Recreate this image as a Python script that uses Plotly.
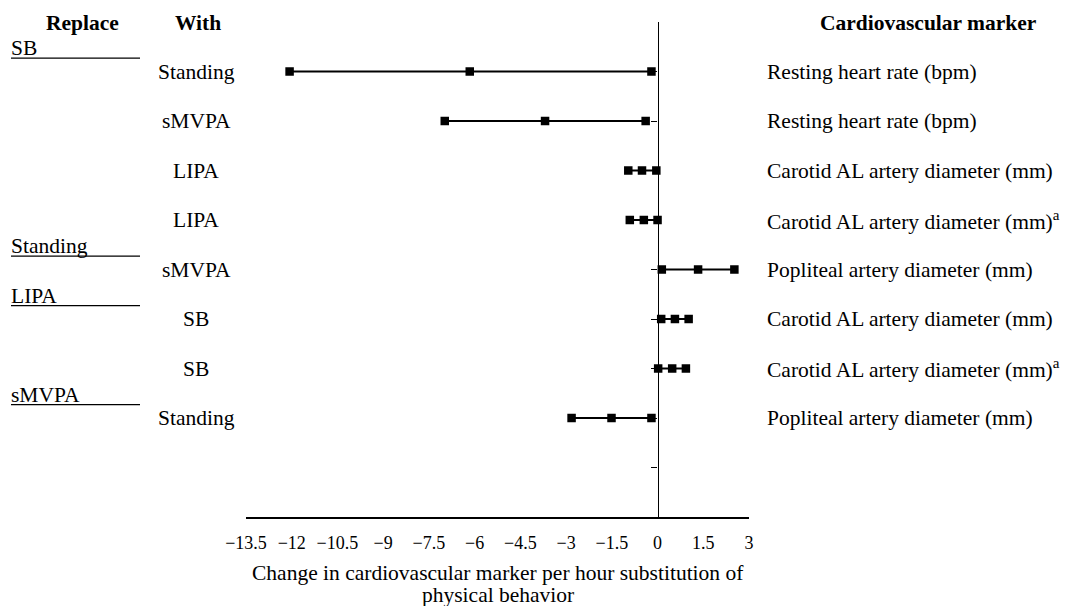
import plotly.graph_objects as go

# ---- data ----
with_labels = ["Standing", "sMVPA", "LIPA", "LIPA", "sMVPA", "SB", "SB", "Standing"]
marker_labels = [
    "Resting heart rate (bpm)",
    "Resting heart rate (bpm)",
    "Carotid AL artery diameter (mm)",
    "Carotid AL artery diameter (mm)<sup>a</sup>",
    "Popliteal artery diameter (mm)",
    "Carotid AL artery diameter (mm)",
    "Carotid AL artery diameter (mm)<sup>a</sup>",
    "Popliteal artery diameter (mm)",
]
lower = [-12.07, -6.98, -0.96, -0.91, 0.14, 0.12, 0.02, -2.82]
estimate = [-6.16, -3.69, -0.51, -0.45, 1.33, 0.57, 0.48, -1.51]
upper = [-0.20, -0.39, -0.04, 0.0, 2.52, 1.02, 0.93, -0.20]
replace_groups = ["SB", "Standing", "LIPA", "sMVPA"]
replace_first_row = [1, 5, 6, 8]
x_ticks = [-13.5, -12, -10.5, -9, -7.5, -6, -4.5, -3, -1.5, 0, 1.5, 3]
x_title_lines = ["Change in cardiovascular marker per hour substitution of", "physical behavior"]

# page has an 8px body margin; positions below are in screen pixels
OFF = 8
SW, SH = 1069, 606
W, H = SW - OFF, SH - OFF
L, R, T, B = 246, 749, 22, 517   # screen px of plot area
FONT = "Liberation Serif"
FS = 21.5
TFS = 18


def px(sx):
    return (sx - L) / (R - L)


def py(sy):
    return (B - sy) / (B - T)


def row_to_sy(r):
    return T + r * (B - T) / 10.0


rows = list(range(1, len(with_labels) + 1))

fig = go.Figure()
for i, r in enumerate(rows):
    fig.add_trace(go.Scatter(
        x=[lower[i], estimate[i], upper[i]], y=[r, r, r],
        mode="lines+markers",
        line=dict(color="black", width=2),
        marker=dict(symbol="square", size=8.5, color="black"),
        showlegend=False, hoverinfo="x",
    ))

ann = []
ann.append(dict(x=px(82), y=py(23), xref="paper", yref="paper", text="<b>Replace</b>",
                showarrow=False, xanchor="center", yanchor="middle"))
ann.append(dict(x=px(198), y=py(23), xref="paper", yref="paper", text="<b>With</b>",
                showarrow=False, xanchor="center", yanchor="middle"))
ann.append(dict(x=px(928), y=py(23), xref="paper", yref="paper", text="<b>Cardiovascular marker</b>",
                showarrow=False, xanchor="center", yanchor="middle"))

for i, r in enumerate(rows):
    ann.append(dict(x=px(196), y=r, xref="paper", yref="y", text=with_labels[i],
                    showarrow=False, xanchor="center", yanchor="middle"))
    ann.append(dict(x=px(765), y=r, xref="paper", yref="y", text=marker_labels[i],
                    showarrow=False, xanchor="left", yanchor="middle"))

shapes = []
for g, r0 in zip(replace_groups, replace_first_row):
    sy_line = row_to_sy(r0 - 0.27)
    ann.append(dict(x=px(9), y=py(sy_line - 10), xref="paper", yref="paper", text=g,
                    showarrow=False, xanchor="left", yanchor="middle"))
    shapes.append(dict(type="line", xref="paper", yref="paper", x0=px(11), x1=px(140),
                       y0=py(sy_line), y1=py(sy_line), line=dict(color="black", width=1.3)))

for k, (line_text, sy) in enumerate(zip(x_title_lines, [573, 595])):
    ann.append(dict(x=0.5, y=py(sy), xref="paper", yref="paper", text=line_text,
                    showarrow=False, xanchor="center", yanchor="middle"))

fig.update_layout(
    width=W, height=H,
    margin=dict(l=L - OFF, r=W - (R - OFF), t=T - OFF, b=H - (B - OFF), autoexpand=False),
    paper_bgcolor="white", plot_bgcolor="white",
    font=dict(family=FONT, size=FS, color="black"),
    annotations=ann, shapes=shapes,
    xaxis=dict(
        range=[-13.5, 3], tickvals=x_ticks,
        ticktext=[("−" + f"{abs(v):g}") if v < 0 else f"{v:g}" for v in x_ticks],
        tickfont=dict(family=FONT, size=TFS, color="black"),
        showgrid=False, zeroline=False, showline=True, linecolor="black", linewidth=1.5,
        ticks="", ticklabelstandoff=9,
    ),
    yaxis=dict(
        range=[10, 0], tickvals=list(range(1, 10)), showticklabels=False,
        showgrid=False, zeroline=False, showline=True, linecolor="black", linewidth=1.2,
        ticks="outside", ticklen=6, tickcolor="black", tickwidth=1,
        anchor="free", position=13.5 / 16.5,
    ),
)

fig.write_html("out.html")
